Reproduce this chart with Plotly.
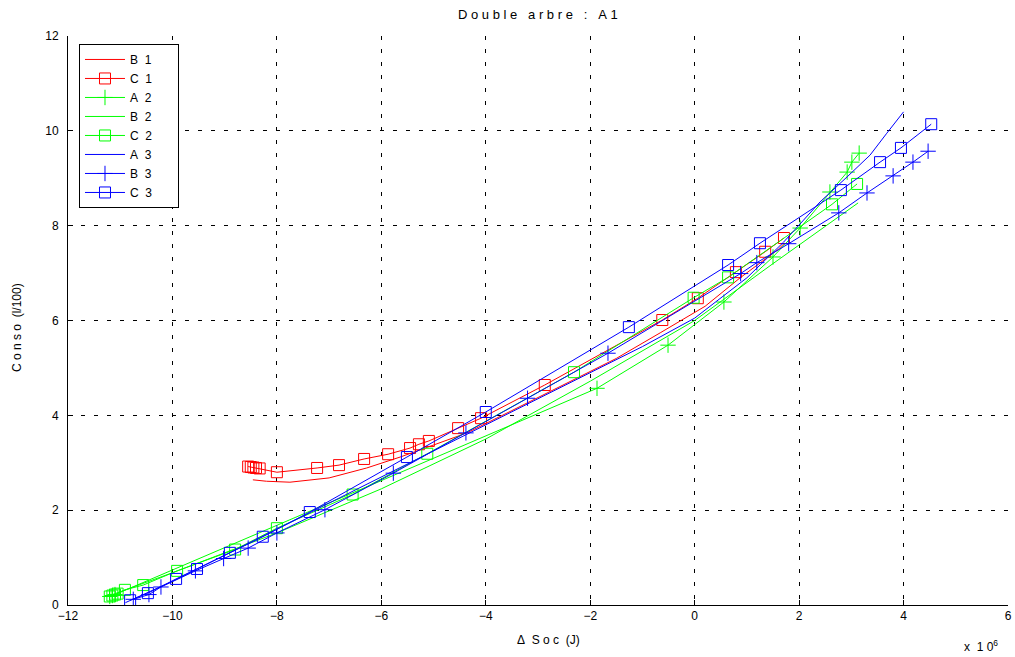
import plotly.graph_objects as go

# ---- data (x in units of 1e6 J, y in l/100) ----
b1_x = [-8.46, -8.2, -7.75, -7.0, -6.28, -5.64, -5.01, -4.36, -3.5, -2.5, -1.5, -0.66, 0.2, 0.87, 1.4, 1.6, 1.72]
b1_y = [2.64, 2.61, 2.59, 2.68, 2.89, 3.12, 3.37, 3.63, 4.1, 4.65, 5.2, 5.74, 6.3, 6.9, 7.34, 7.5, 7.63]

c1_x = [-8.55, -8.5, -8.45, -8.4, -8.33, -8.0, -7.23, -6.81, -6.33, -5.87, -5.45, -5.28, -5.09, -4.53, -4.09, -2.87, -0.62, 0.06, 0.79, 1.35, 1.71]
c1_y = [2.92, 2.91, 2.9, 2.89, 2.88, 2.8, 2.89, 2.95, 3.08, 3.18, 3.31, 3.39, 3.46, 3.73, 3.94, 4.64, 6.01, 6.47, 7.02, 7.45, 7.74]

a2_x = [-11.2, -11.15, -11.1, -1.87, -0.51, 0.56, 1.5, 2.02, 2.59, 2.92, 3.01, 3.15]
a2_y = [0.18, 0.2, 0.22, 4.57, 5.48, 6.39, 7.34, 7.95, 8.71, 9.13, 9.34, 9.53]

b2_x = [-11.2, -10.0, -8.0, -6.0, -4.0, -2.0, 0.0, 1.5, 3.13]
b2_y = [0.2, 0.68, 1.52, 2.45, 3.5, 4.72, 6.0, 7.2, 8.48]

c2_x = [-11.2, -11.15, -11.1, -11.05, -10.91, -10.56, -9.91, -8.8, -8.0, -6.55, -5.12, -2.31, -0.02, 0.64, 2.63, 3.11]
c2_y = [0.18, 0.2, 0.22, 0.24, 0.32, 0.42, 0.72, 1.17, 1.62, 2.33, 3.19, 4.91, 6.48, 6.91, 8.45, 8.88]

a3_x = [-10.9, -10.0, -9.0, -8.0, -7.0, -6.0, -5.0, -4.0, -3.0, -2.0, -1.0, 0.0, 1.0, 1.7, 2.4, 2.92, 3.36, 3.68, 4.0]
a3_y = [0.05, 0.5, 1.05, 1.6, 2.15, 2.7, 3.25, 3.8, 4.35, 4.9, 5.45, 6.05, 6.9, 7.65, 8.5, 9.03, 9.49, 9.95, 10.4]

b3_x = [-10.75, -10.45, -10.22, -9.56, -9.02, -8.55, -8.0, -7.08, -5.77, -4.38, -3.2, -1.66, 0.88, 1.19, 1.8, 2.76, 3.3, 3.8, 4.18, 4.47]
b3_y = [0.12, 0.22, 0.38, 0.72, 0.98, 1.2, 1.52, 2.01, 2.78, 3.63, 4.36, 5.31, 6.99, 7.22, 7.62, 8.27, 8.69, 9.05, 9.34, 9.57]

c3_x = [-10.81, -10.47, -9.93, -9.53, -8.9, -8.27, -7.37, -5.51, -4.0, -1.26, 0.64, 1.25, 2.80, 3.55, 3.95, 4.53]
c3_y = [0.1, 0.25, 0.55, 0.76, 1.1, 1.44, 1.96, 3.12, 4.07, 5.86, 7.17, 7.63, 8.75, 9.34, 9.64, 10.14]

x_ticks = [-12, -10, -8, -6, -4, -2, 0, 2, 4, 6]
y_ticks = [0, 2, 4, 6, 8, 10, 12]

RED, GREEN, BLUE = "#ff0000", "#00ff00", "#0000ff"
FONT = "Liberation Sans, Arial, sans-serif"
NB = "\u00a0"

series = [
    ("B 1", b1_x, b1_y, RED, None),
    ("C 1", c1_x, c1_y, RED, "square-open"),
    ("A 2", a2_x, a2_y, GREEN, "cross-thin-open"),
    ("B 2", b2_x, b2_y, GREEN, None),
    ("C 2", c2_x, c2_y, GREEN, "square-open"),
    ("A 3", a3_x, a3_y, BLUE, None),
    ("B 3", b3_x, b3_y, BLUE, "cross-thin-open"),
    ("C 3", c3_x, c3_y, BLUE, "square-open"),
]

fig = go.Figure()
for name, xs, ys, col, sym in series:
    label = name.replace(" ", NB + NB) + NB * 6
    if sym is None:
        fig.add_trace(go.Scatter(x=xs, y=ys, name=label, mode="lines",
                                 line=dict(color=col, width=1)))
    else:
        fig.add_trace(go.Scatter(x=xs, y=ys, name=label, mode="lines+markers",
                                 line=dict(color=col, width=1),
                                 marker=dict(symbol=sym, size=11, color=col,
                                             line=dict(color=col, width=1))))

axis_common = dict(
    showline=True, linecolor="black", linewidth=1, mirror=False,
    ticks="inside", ticklen=5, tickcolor="black", automargin=False,
    showgrid=True, gridcolor="black", gridwidth=1, griddash="4px,9px",
    zeroline=False, tickfont=dict(family=FONT, size=12, color="black"),
)

fig.update_xaxes(range=[-12, 6], tickvals=x_ticks, **axis_common)
fig.update_yaxes(range=[0, 12], tickvals=y_ticks, ticklabelstandoff=6, **axis_common)


def spaced(s):
    return NB.join(s)


fig.update_layout(
    width=1015, height=657,
    margin=dict(l=68, r=7, t=36, b=52),
    paper_bgcolor="white", plot_bgcolor="white",
    font=dict(family=FONT, size=12, color="black"),
    showlegend=True,
    legend=dict(x=0.0117, y=0.986, xanchor="left", yanchor="top",
                bordercolor="black", borderwidth=1, bgcolor="white",
                font=dict(family=FONT, size=12, color="black"),
                itemwidth=40, tracegroupgap=0),
    annotations=[
        dict(text=spaced("Double") + NB * 3 + spaced("arbre") + NB * 3 + ":" + NB * 3 + spaced("A1"),
             xref="paper", yref="paper",
             x=(538 - 68) / 940, y=(605 - 14) / 569, xanchor="center", yanchor="middle",
             showarrow=False, font=dict(family=FONT, size=13)),
        dict(text="Δ" + NB * 2 + spaced("Soc") + NB * 2 + "(J)", xref="paper", yref="paper",
             x=(548 - 68) / 940, y=(605 - 640) / 569, xanchor="center", yanchor="middle",
             showarrow=False, font=dict(family=FONT, size=12)),
        dict(text=spaced("Conso") + NB * 2 + "(l/100)", xref="paper", yref="paper",
             x=(17 - 68) / 940, y=(605 - 328) / 569, xanchor="center", yanchor="middle",
             textangle=-90, showarrow=False, font=dict(family=FONT, size=12)),
        dict(text="x" + NB * 2 + "1" + NB + "0<sup>6</sup>", xref="paper", yref="paper",
             x=(981 - 68) / 940, y=(605 - 646) / 569, xanchor="center", yanchor="middle",
             showarrow=False, font=dict(family=FONT, size=12)),
    ],
)

fig.write_html("out.html",
               config={"displayModeBar": False},
               post_script="document.body.style.margin='0';document.body.style.overflow='hidden';")
